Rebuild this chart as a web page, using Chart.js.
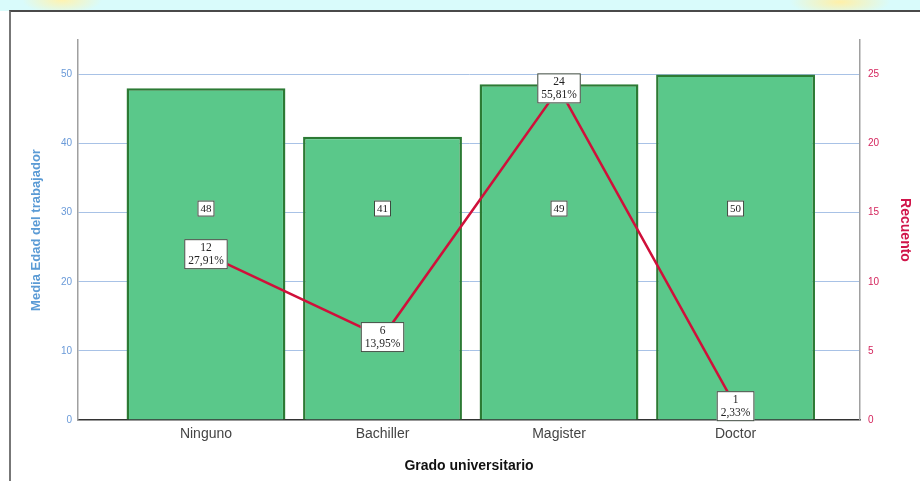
<!DOCTYPE html>
<html lang="es">
<head>
<meta charset="UTF-8">
<title>Grado universitario</title>
<script src="https://cdn.jsdelivr.net/npm/chart.js"></script>
<style>
  html, body { margin: 0; padding: 0; background: #fff; }
  #page { position: relative; width: 920px; height: 481px; overflow: hidden; }
  #strip {
    position: absolute; left: 0; top: 0; width: 920px; height: 11px;
    background:
      radial-gradient(ellipse 40px 14px at 62px 0px, #fff3b0 0%, rgba(255,243,176,0) 100%),
      radial-gradient(ellipse 50px 14px at 840px 2px, #fff0a8 0%, rgba(255,240,168,0) 100%),
      #d9fbfb;
  }
  #frame {
    position: absolute; left: 9px; top: 10px; width: 920px; height: 480px;
    border-top: 2px solid #4a4a4a; border-left: 2px solid #777;
  }
  #wrap { position: absolute; left: 0; top: 0; width: 920px; height: 481px; }
</style>
</head>
<body>
<div id="page">
  <div id="strip"></div>
  <div id="frame"></div>
  <div id="wrap"><canvas id="chart"></canvas></div>
</div>
<script>
// Datos
const categorias = ['Ninguno', 'Bachiller', 'Magister', 'Doctor'];
const edadMedia = [48, 41, 48.6, 50];
const recuento = [12, 6, 24, 1];
const ticksEdad = [0, 10, 20, 30, 40, 50];
const ticksRecuento = [0, 5, 10, 15, 20, 25];

const total = recuento.reduce((a, b) => a + b, 0);

// Etiquetas en cajas blancas
const etiquetas = {
  id: 'etiquetas',
  afterDatasetsDraw(chart) {
    const ctx = chart.ctx;
    const xs = chart.scales.x;
    const y = chart.scales.y;
    const y1 = chart.scales.y1;
    ctx.save();
    ctx.textAlign = 'center';
    ctx.textBaseline = 'middle';
    ctx.font = '11px "Liberation Serif", serif';

    // valores de las barras
    edadMedia.forEach((v, i) => {
      const cx = xs.getPixelForValue(i);
      const cy = y.getPixelForValue(30.6);
      const txt = String(Math.round(v));
      const w = ctx.measureText(txt).width + 6;
      const h = 16;
      ctx.fillStyle = '#fff';
      ctx.fillRect(cx - w / 2, cy - h / 2, w, h);
      ctx.strokeStyle = '#3d4a3f';
      ctx.lineWidth = 1;
      ctx.strokeRect(cx - w / 2 + 0.5, cy - h / 2 + 0.5, w - 1, h - 1);
      ctx.fillStyle = '#222';
      ctx.fillText(txt, cx, cy + 0.5);
    });

    // recuento y porcentaje
    recuento.forEach((v, i) => {
      const cx = xs.getPixelForValue(i);
      const cy = y1.getPixelForValue(v);
      const l1 = String(v);
      const l2 = (v / total * 100).toFixed(2).replace('.', ',') + '%';
      ctx.font = '11.5px "Liberation Serif", serif';
      const w = Math.max(ctx.measureText(l1).width, ctx.measureText(l2).width) + 8;
      const h = 30;
      ctx.fillStyle = '#fff';
      ctx.fillRect(cx - w / 2, cy - h / 2, w, h);
      ctx.strokeStyle = '#3d4a3f';
      ctx.lineWidth = 1;
      ctx.strokeRect(cx - w / 2 + 0.5, cy - h / 2 + 0.5, w - 1, h - 1);
      ctx.fillStyle = '#222';
      ctx.fillText(l1, cx, cy - 6.5);
      ctx.fillText(l2, cx, cy + 7);
    });
    ctx.restore();
  }
};

new Chart(document.getElementById('chart'), {
  data: {
    datasets: [
      {
        type: 'line',
        label: 'Recuento',
        yAxisID: 'y1',
        data: recuento.map((v, i) => ({ x: i, y: v })),
        borderColor: '#d0103a',
        borderWidth: 2.5,
        pointRadius: 0,
        tension: 0,
        fill: false,
        order: 0
      },
      {
        type: 'bar',
        label: 'Media Edad del trabajador',
        yAxisID: 'y',
        data: edadMedia.map((v, i) => ({ x: i, y: v })),
        backgroundColor: '#5ac88a',
        borderColor: '#2c7a34',
        borderWidth: 2.5,
        categoryPercentage: 1,
        barPercentage: 0.9,
        order: 1
      }
    ]
  },
  options: {
    responsive: true,
    maintainAspectRatio: false,
    animation: false,
    layout: { padding: { top: 40, left: 0, right: 0, bottom: 0 } },
    plugins: { legend: { display: false }, tooltip: { enabled: false } },
    scales: {
      x: {
        type: 'linear',
        offset: false,
        min: -0.725,
        max: 3.705,
        afterBuildTicks: s => { s.ticks = categorias.map((c, i) => ({ value: i })); },
        afterFit: s => { s.height = 61; },
        grid: { display: false, drawTicks: false, offset: false },
        border: { color: '#333', width: 1.5 },
        ticks: {
          callback: v => categorias[v],
          color: '#444',
          padding: 6,
          font: { family: '"Liberation Sans", Arial, sans-serif', size: 14 }
        },
        title: {
          display: true,
          text: 'Grado universitario',
          color: '#111',
          padding: { bottom: 6 },
          font: { family: '"Liberation Sans", Arial, sans-serif', size: 14, weight: 'bold' }
        }
      },
      y: {
        position: 'left',
        min: 0,
        max: 55,
        afterBuildTicks: s => { s.ticks = ticksEdad.map(v => ({ value: v })); },
        afterFit: s => { s.width = 78; },
        grid: {
          color: c => (c.tick && c.tick.value === 0 ? 'rgba(0,0,0,0)' : '#a8c2e6'),
          lineWidth: 1,
          drawTicks: false
        },
        border: { color: '#a0a0a0', width: 1.5 },
        ticks: {
          color: '#6a9ad8',
          padding: 6,
          font: { family: '"Liberation Sans", Arial, sans-serif', size: 10 }
        },
        title: {
          display: true,
          text: 'Media Edad del trabajador',
          color: '#5b9bd5',
          padding: { top: 29 },
          font: { family: '"Liberation Sans", Arial, sans-serif', size: 13, weight: 'bold' }
        }
      },
      y1: {
        position: 'right',
        min: 0,
        max: 27.5,
        afterBuildTicks: s => { s.ticks = ticksRecuento.map(v => ({ value: v })); },
        afterFit: s => { s.width = 60; },
        grid: { drawOnChartArea: false, drawTicks: false },
        border: { color: '#a0a0a0', width: 1.5 },
        ticks: {
          color: '#d4245c',
          padding: 8,
          font: { family: '"Liberation Sans", Arial, sans-serif', size: 10 }
        },
        title: {
          display: true,
          text: 'Recuento',
          color: '#d0154a',
          padding: { top: 7 },
          font: { family: '"Liberation Sans", Arial, sans-serif', size: 14, weight: 'bold' }
        }
      }
    }
  },
  plugins: [etiquetas]
});
</script>
</body>
</html>
